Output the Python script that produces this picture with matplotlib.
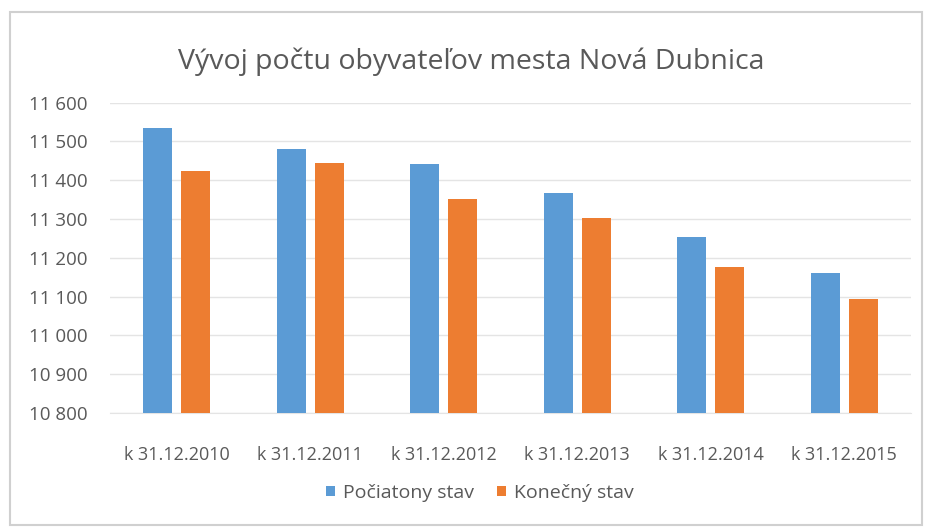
import matplotlib.pyplot as plt
import numpy as np
from matplotlib.patches import Rectangle

plt.rcParams['font.family'] = ['Open Sans', 'DejaVu Sans']

kategorie = ['k 31.12.2010', 'k 31.12.2011', 'k 31.12.2012',
             'k 31.12.2013', 'k 31.12.2014', 'k 31.12.2015']
pociatocny = [11534, 11480, 11442, 11366, 11255, 11160]
konecny = [11425, 11445, 11352, 11304, 11177, 11093]
yticks = [10800, 10900, 11000, 11100, 11200, 11300, 11400, 11500, 11600]

modra = '#5B9BD5'
oranz = '#ED7D31'
seda = '#595959'

fig = plt.figure(figsize=(9.28, 5.27), dpi=100)
# ramik okolo grafu
fig.patches.append(Rectangle((10/928, 2/527), 912/928, 513/527, transform=fig.transFigure,
                             fill=False, edgecolor='#D0D0D0', linewidth=1.5))

ax = fig.add_axes([110/928, 1 - 413/527, 801/928, (413 - 102.7)/527])

x = np.arange(len(kategorie))
w = 0.22
ax.bar(x - 0.142, np.array(pociatocny) - 10800, w, bottom=10800, color=modra, label='Počiatony stav', zorder=3)
ax.bar(x + 0.142, np.array(konecny) - 10800, w, bottom=10800, color=oranz, label='Konečný stav', zorder=3)

ax.set_xlim(-0.5, len(kategorie) - 0.5)
ax.set_ylim(10800, 11600)
ax.set_yticks(yticks)
ax.set_yticklabels(['{:,}'.format(v).replace(',', ' ') for v in yticks])
ax.set_xticks(x)
ax.set_xticklabels(kategorie)
ax.tick_params(axis='y', length=0, labelsize=13.5, labelcolor=seda, pad=16)
ax.tick_params(axis='x', length=0, labelsize=13, labelcolor=seda, pad=24)

ax.grid(axis='y', color='#E4E4E4', linewidth=1, zorder=0)
for s in ['top', 'right', 'left']:
    ax.spines[s].set_visible(False)
ax.spines['bottom'].set_color('#E4E4E4')

fig.text(471/928, 1 - 62/527, 'Vývoj počtu obyvateľov mesta Nová Dubnica',
         ha='center', va='center', fontsize=20.5, color=seda)

fig.legend(loc='center', bbox_to_anchor=(480/928, 1 - 493/527), ncol=2, frameon=False,
           fontsize=14, labelcolor=seda, handlelength=0.45, handleheight=0.45,
           handletextpad=0.4, columnspacing=1.2)

fig.savefig('out.png', dpi=100)
